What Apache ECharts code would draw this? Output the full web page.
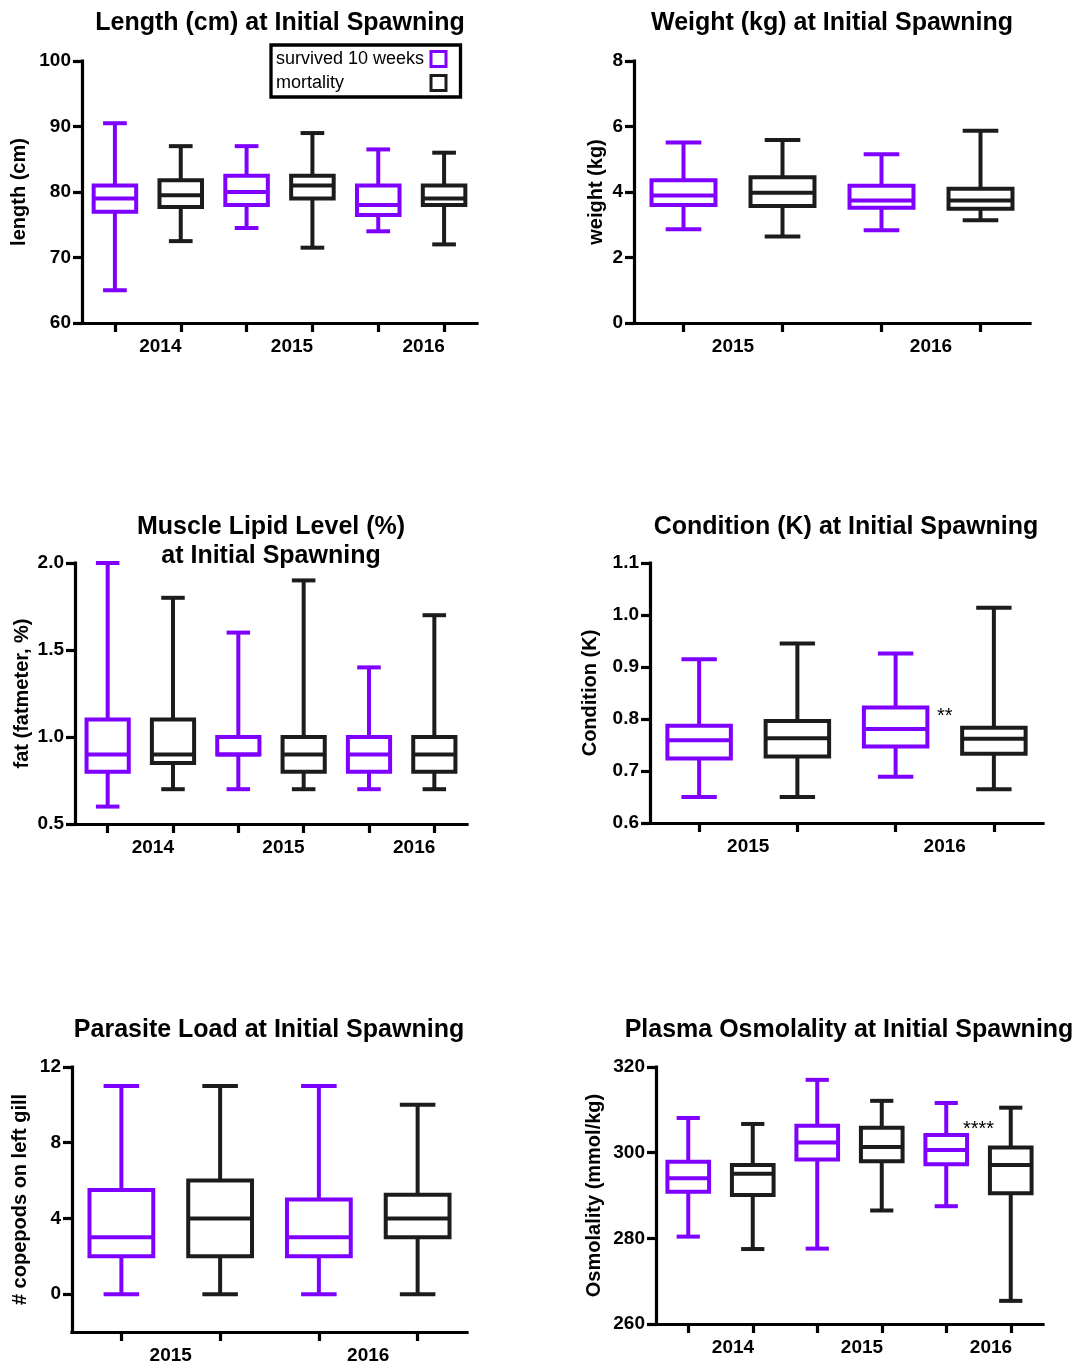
<!DOCTYPE html>
<html>
<head>
<meta charset="utf-8">
<title>Traits at Initial Spawning</title>
<script src="https://cdn.jsdelivr.net/npm/echarts@6/dist/echarts.min.js"></script>
<style>
  html, body { margin: 0; padding: 0; background: #fff; }
  #chart { width: 1078px; height: 1363px; }
</style>
</head>
<body>
<div id="chart"></div>
<script>
// Box statistics for each group, ordered [min, Q1, median, Q3, max]
const lengthYears = ['2014', '2015', '2016'];
const lengthSurvived = [[65, 77, 79, 81, 90.5], [74.5, 78, 80, 82.5, 87], [74, 76.5, 78, 81, 86.5]];
const lengthMortality = [[72.5, 77.7, 79.5, 81.8, 87], [71.5, 79, 81, 82.5, 89], [72, 78, 79, 81, 86]];

const weightYears = ['2015', '2016'];
const weightSurvived = [[2.86, 3.6, 3.89, 4.36, 5.51], [2.83, 3.52, 3.74, 4.19, 5.15]];
const weightMortality = [[2.64, 3.57, 3.98, 4.45, 5.59], [3.14, 3.49, 3.74, 4.1, 5.87]];

const lipidYears = ['2014', '2015', '2016'];
const lipidSurvived = [[0.6, 0.8, 0.9, 1.1, 2.0], [0.7, 0.9, 0.9, 1.0, 1.6], [0.7, 0.8, 0.9, 1.0, 1.4]];
const lipidMortality = [[0.7, 0.85, 0.9, 1.1, 1.8], [0.7, 0.8, 0.9, 1.0, 1.9], [0.7, 0.8, 0.9, 1.0, 1.7]];

const conditionYears = ['2015', '2016'];
const conditionSurvived = [[0.65, 0.724, 0.759, 0.787, 0.915], [0.689, 0.747, 0.781, 0.822, 0.926]];
const conditionMortality = [[0.65, 0.728, 0.763, 0.796, 0.945], [0.665, 0.733, 0.762, 0.783, 1.014]];

const parasiteYears = ['2015', '2016'];
const parasiteSurvived = [[0, 2, 3, 5.5, 11], [0, 2, 3, 5, 11]];
const parasiteMortality = [[0, 2, 4, 6, 11], [0, 3, 4, 5.25, 10]];

const osmoYears = ['2014', '2015', '2016'];
const osmoSurvived = [[280.4, 290.9, 294.0, 297.9, 308.1], [277.6, 298.4, 302.4, 306.3, 317.0], [287.5, 297.3, 300.6, 304.1, 311.6]];
const osmoMortality = [[277.5, 290.1, 295.1, 297.1, 306.7], [286.5, 298.0, 301.3, 305.8, 312.1], [265.4, 290.5, 297.1, 301.2, 310.5]];

// Significance markers: placed between box `slot` and the next one, at value `y`
const conditionMarks = [{ slot: 2, y: 0.804, text: '**' }];
const osmoMarks = [{ slot: 4, y: 305.5, text: '****' }];

// Y-axis tick values of the parasite panel (axis runs below zero)
const parasiteTicks = [0, 4, 8, 12];

const SURVIVED = 'survived 10 weeks';
const MORTALITY = 'mortality';
const PURPLE = '#7f00ff';
const DARK = '#1c1c1c';
const INK = '#000';
const FONT = "'Liberation Sans', Arial, Helvetica, sans-serif";

const panels = [
  { title: 'Length (cm) at Initial Spawning', titleX: 280, titleY: 9,
    grid: { left: 82, top: 61, width: 395, height: 262 },
    yName: 'length (cm)', nameGap: 53, min: 60, max: 100, interval: 10, decimals: 0,
    years: lengthYears, survived: lengthSurvived, mortality: lengthMortality, yearShift: 25 },
  { title: 'Weight (kg) at Initial Spawning', titleX: 832, titleY: 9,
    grid: { left: 634, top: 61, width: 396, height: 262 },
    yName: 'weight (kg)', nameGap: 28, min: 0, max: 8, interval: 2, decimals: 0,
    years: weightYears, survived: weightSurvived, mortality: weightMortality, yearShift: 0 },
  { title: 'Muscle Lipid Level (%)\nat Initial Spawning', titleX: 271, titleY: 513,
    grid: { left: 75, top: 563, width: 392, height: 261 },
    yName: 'fat (fatmeter, %)', nameGap: 43, min: 0.5, max: 2.0, interval: 0.5, decimals: 1,
    years: lipidYears, survived: lipidSurvived, mortality: lipidMortality, yearShift: 25 },
  { title: 'Condition (K) at Initial Spawning', titleX: 846, titleY: 513,
    grid: { left: 650, top: 563, width: 393, height: 260 },
    yName: 'Condition (K)', nameGap: 50, min: 0.6, max: 1.1, interval: 0.1, decimals: 1,
    years: conditionYears, survived: conditionSurvived, mortality: conditionMortality, yearShift: 0,
    marks: conditionMarks },
  { title: 'Parasite Load at Initial Spawning', titleX: 269, titleY: 1016,
    grid: { left: 72, top: 1067, width: 395, height: 265 },
    yName: '# copepods on left gill', nameGap: 42, min: -2, max: 12, ticks: parasiteTicks, decimals: 0,
    years: parasiteYears, survived: parasiteSurvived, mortality: parasiteMortality, yearShift: 0 },
  { title: 'Plasma Osmolality at Initial Spawning', titleX: 849, titleY: 1016,
    grid: { left: 656, top: 1067, width: 387, height: 257 },
    yName: 'Osmolality (mmol/kg)', nameGap: 52, min: 260, max: 320, interval: 20, decimals: 0,
    years: osmoYears, survived: osmoSurvived, mortality: osmoMortality, yearShift: 25,
    marks: osmoMarks }
];

const BOX_LINE = 4;

// Whisker box drawn from [slot, min, Q1, median, Q3, max]
function boxRenderer(color) {
  return function (params, api) {
    const slot = api.value(0);
    const band = api.size([1, 0])[0];
    const half = band * 0.323;
    const cap = band * 0.18;
    const at = (dim) => api.coord([slot, api.value(dim)]);
    const lo = at(1), q1 = at(2), md = at(3), q3 = at(4), hi = at(5);
    const x = md[0];
    const style = { stroke: color, lineWidth: BOX_LINE, fill: null, lineCap: 'butt' };
    return {
      type: 'group',
      children: [
        { type: 'line', shape: { x1: x, y1: q3[1], x2: x, y2: hi[1] }, style },
        { type: 'line', shape: { x1: x, y1: q1[1], x2: x, y2: lo[1] }, style },
        { type: 'line', shape: { x1: x - cap, y1: hi[1], x2: x + cap, y2: hi[1] }, style },
        { type: 'line', shape: { x1: x - cap, y1: lo[1], x2: x + cap, y2: lo[1] }, style },
        { type: 'rect', shape: { x: x - half, y: q3[1], width: half * 2, height: q1[1] - q3[1] },
          style: { stroke: color, lineWidth: BOX_LINE, fill: '#fff', lineJoin: 'miter' } },
        { type: 'line', shape: { x1: x - half, y1: md[1], x2: x + half, y2: md[1] }, style }
      ]
    };
  };
}

function markRenderer(marks) {
  return function (params, api) {
    const p = api.coord([api.value(0), api.value(1)]);
    const band = api.size([1, 0])[0];
    return {
      type: 'text',
      x: p[0] + band / 2,
      y: p[1],
      style: {
        text: marks[params.dataIndex].text,
        fill: INK, fontSize: 20, fontFamily: FONT,
        align: 'center', verticalAlign: 'middle'
      }
    };
  };
}

const option = {
  animation: false,
  backgroundColor: '#fff',
  textStyle: { fontFamily: FONT },
  title: [],
  grid: [],
  xAxis: [],
  yAxis: [],
  series: [],
  // the legend sits inside the length panel only
  legend: {
    left: 271, top: 45,
    orient: 'vertical', align: 'right',
    padding: [5, 13, 5, 5], itemGap: 6,
    itemWidth: 15, itemHeight: 15,
    borderColor: INK, borderWidth: 3.3, backgroundColor: '#fff',
    selectedMode: false,
    formatter: (name) => '{t|' + name + '}',
    textStyle: {
      color: INK, fontSize: 18, fontFamily: FONT,
      rich: { t: { width: 150, align: 'left', fontSize: 18, fontFamily: FONT, color: INK } }
    },
    data: [
      { name: SURVIVED, icon: 'rect', itemStyle: { color: '#fff', borderColor: PURPLE, borderWidth: 3 } },
      { name: MORTALITY, icon: 'rect', itemStyle: { color: '#fff', borderColor: DARK, borderWidth: 3 } }
    ]
  }
};

const axisLineStyle = { color: INK, width: 3.2, cap: 'square' };
const tickLineStyle = { color: INK, width: 3.2 };
const labelFont = { color: INK, fontSize: 19, fontWeight: 'bold', fontFamily: FONT };

panels.forEach((pn, i) => {
  option.title.push({
    text: pn.title, left: pn.titleX, top: pn.titleY, textAlign: 'center', padding: 0,
    textStyle: { fontSize: 25, fontWeight: 'bold', color: INK, fontFamily: FONT, lineHeight: 29 }
  });
  option.grid.push(Object.assign({ containLabel: false, outerBoundsMode: 'none' }, pn.grid));

  const slots = [];
  pn.years.forEach((y) => { slots.push(y + ' ' + SURVIVED, y + ' ' + MORTALITY); });

  // box slots: one tick under each box
  option.xAxis.push({
    gridIndex: i, type: 'category', position: 'bottom', data: slots, boundaryGap: true,
    axisLine: { show: true, onZero: false, lineStyle: axisLineStyle },
    axisTick: { show: true, alignWithLabel: true, interval: 0, length: 9, lineStyle: tickLineStyle },
    axisLabel: { show: false },
    splitLine: { show: false }
  });
  // year labels under each pair of boxes
  option.xAxis.push({
    gridIndex: i, type: 'category', position: 'bottom', data: pn.years, boundaryGap: true,
    axisLine: { show: false, onZero: false },
    axisTick: { show: false },
    axisLabel: Object.assign({ interval: 0, margin: 14, padding: [0, 0, 0, pn.yearShift] }, labelFont),
    splitLine: { show: false }
  });

  const yAxis = {
    gridIndex: i, type: 'value', min: pn.min, max: pn.max,
    axisLine: { show: true, onZero: false, lineStyle: axisLineStyle },
    axisTick: { show: true, length: 9, lineStyle: tickLineStyle },
    axisLabel: Object.assign({ margin: 11, showMinLabel: true, showMaxLabel: true,
      formatter: (v) => Number(v).toFixed(pn.decimals) }, labelFont),
    splitLine: { show: false },
    name: pn.yName, nameLocation: 'middle', nameRotate: 90, nameGap: pn.nameGap,
    nameTextStyle: { fontSize: 20, fontWeight: 'bold', color: INK, fontFamily: FONT }
  };
  if (pn.ticks) {
    yAxis.axisTick.customValues = pn.ticks;
    yAxis.axisLabel.customValues = pn.ticks;
  } else {
    yAxis.interval = pn.interval;
  }
  option.yAxis.push(yAxis);

  const groups = [[SURVIVED, pn.survived, PURPLE, 0], [MORTALITY, pn.mortality, DARK, 1]];
  groups.forEach(([name, stats, color, offset]) => {
    option.series.push({
      type: 'custom', name: name,
      xAxisIndex: 2 * i, yAxisIndex: i,
      data: stats.map((s, k) => [2 * k + offset].concat(s)),
      encode: { x: 0, y: [1, 2, 3, 4, 5] },
      itemStyle: { color: color },
      renderItem: boxRenderer(color),
      clip: false, silent: true
    });
  });

  if (pn.marks) {
    option.series.push({
      type: 'custom',
      xAxisIndex: 2 * i, yAxisIndex: i,
      data: pn.marks.map((m) => [m.slot, m.y]),
      encode: { x: 0, y: 1 },
      renderItem: markRenderer(pn.marks),
      clip: false, silent: true
    });
  }
});

const chart = echarts.init(document.getElementById('chart'), null, { renderer: 'canvas' });
chart.setOption(option);
</script>
</body>
</html>
